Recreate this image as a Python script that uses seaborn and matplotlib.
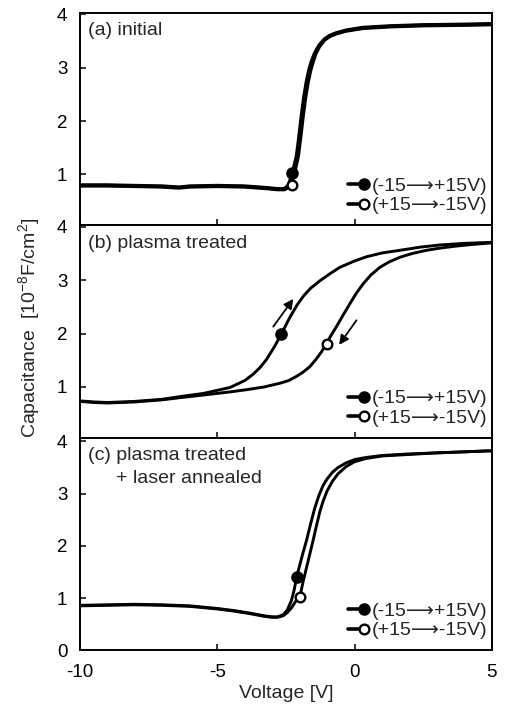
import numpy as np
import pandas as pd
import matplotlib
matplotlib.use("Agg")
import matplotlib.pyplot as plt
import seaborn as sns
from matplotlib.lines import Line2D
from matplotlib.legend_handler import HandlerLine2D

# ---------------- data ----------------
# (a) initial
a_fwd_v = [-10, -9, -8, -7, -6.4, -6, -5, -4, -3.2, -2.8, -2.55, -2.4, -2.3, -2.2, -2.11, -2.02,
           -1.93, -1.84, -1.75, -1.66, -1.57, -1.45, -1.3, -1.1, -0.9, -0.66, -0.3, 0.3, 1.3, 2.5, 4, 5]
a_fwd_c = [0.80, 0.80, 0.79, 0.78, 0.76, 0.78, 0.79, 0.78, 0.75, 0.73, 0.73, 0.80, 0.96, 1.15, 1.34, 1.70,
           2.10, 2.45, 2.73, 2.95, 3.11, 3.27, 3.41, 3.53, 3.60, 3.65, 3.70, 3.75, 3.78, 3.80, 3.81, 3.82]
a_rev_v = [-10, -9, -8, -7, -6.4, -6, -5, -4, -3.2, -2.8, -2.55, -2.35, -2.25, -2.15, -2.06, -1.97,
           -1.88, -1.79, -1.7, -1.61, -1.52, -1.42, -1.28, -1.1, -0.9, -0.66, -0.3, 0.3, 1.3, 2.5, 4, 5]
a_rev_c = [0.79, 0.79, 0.78, 0.77, 0.75, 0.77, 0.78, 0.77, 0.74, 0.72, 0.72, 0.78, 0.93, 1.13, 1.33, 1.69,
           2.09, 2.44, 2.72, 2.94, 3.10, 3.26, 3.40, 3.52, 3.59, 3.64, 3.69, 3.74, 3.77, 3.79, 3.80, 3.81]
a_mark_v = [-2.29, -2.28]
a_mark_c = [1.03, 0.80]

# (b) plasma treated
b_fwd_v = [-10, -9.5, -9, -8, -7, -6.36, -5.5, -4.54, -4.0, -3.69, -3.45, -3.2, -2.9, -2.66, -2.36,
           -2.1, -1.85, -1.6, -1.26, -0.9, -0.54, 0, 0.44, 1.0, 1.65, 2.4, 3.11, 4.0, 5]
b_fwd_c = [0.74, 0.72, 0.71, 0.73, 0.77, 0.82, 0.88, 0.99, 1.12, 1.24, 1.36, 1.52, 1.77, 2.0, 2.30,
           2.53, 2.71, 2.85, 2.99, 3.12, 3.24, 3.36, 3.44, 3.51, 3.56, 3.62, 3.66, 3.69, 3.71]
b_rev_v = [-10, -9.5, -9, -8, -7, -6.36, -5.5, -4.5, -3.93, -3.3, -2.72, -2.4, -2.11, -1.87, -1.63,
           -1.4, -1.2, -1.02, -0.85, -0.66, -0.4, -0.17, 0.07, 0.31, 0.6, 0.92, 1.25, 1.65, 2.1,
           2.62, 3.1, 3.71, 4.3, 5]
b_rev_c = [0.73, 0.71, 0.70, 0.72, 0.76, 0.80, 0.85, 0.91, 0.95, 1.0, 1.07, 1.12, 1.20, 1.28, 1.38,
           1.52, 1.66, 1.82, 1.97, 2.13, 2.36, 2.56, 2.76, 2.93, 3.10, 3.24, 3.34, 3.43, 3.50,
           3.56, 3.60, 3.64, 3.67, 3.70]
b_mark_v = [-2.66, -1.0]
b_mark_c = [2.0, 1.8]
b_arrow_up = [(-2.96, 2.13), (-2.23, 2.65)]
b_arrow_down = [(0.07, 2.25), (-0.56, 1.79)]

# (c) plasma treated + laser annealed
c_fwd_v = [-10, -9, -8, -7, -6, -5, -4.4, -3.8, -3.3, -3.0, -2.8, -2.6, -2.45, -2.3, -2.2, -2.11,
           -2.0, -1.88, -1.75, -1.6, -1.45, -1.3, -1.15, -1.0, -0.8, -0.6, -0.3, 0, 0.4, 1, 2, 3, 4, 5]
c_fwd_c = [0.86, 0.87, 0.88, 0.87, 0.85, 0.80, 0.76, 0.71, 0.66, 0.64, 0.64, 0.68, 0.77, 0.95, 1.15, 1.40,
           1.62, 1.86, 2.10, 2.42, 2.72, 2.96, 3.15, 3.28, 3.41, 3.50, 3.59, 3.65, 3.69, 3.73, 3.76, 3.78,
           3.80, 3.82]
c_rev_v = [-10, -9, -8, -7, -6, -5, -4.4, -3.8, -3.3, -3.0, -2.8, -2.6, -2.45, -2.3, -2.15, -1.99,
           -1.88, -1.75, -1.63, -1.51, -1.38, -1.26, -1.14, -1.0, -0.8, -0.6, -0.3, 0, 0.4, 1, 2, 3, 4, 5]
c_rev_c = [0.85, 0.86, 0.87, 0.86, 0.84, 0.79, 0.75, 0.70, 0.65, 0.63, 0.63, 0.66, 0.72, 0.81, 0.93, 1.02,
           1.3, 1.58, 1.84, 2.10, 2.40, 2.66, 2.86, 3.05, 3.24, 3.38, 3.52, 3.61, 3.67, 3.72, 3.75, 3.78,
           3.80, 3.82]
c_mark_v = [-2.11, -1.99]
c_mark_c = [1.40, 1.02]

panel_labels = ["(a) initial", "(b) plasma treated", "(c) plasma treated"]
panel_label2 = "+ laser annealed"
legend_labels = ["(-15\u27f6+15V)", "(+15\u27f6-15V)"]
x_ticks = [-10, -5, 0, 5]
y_ticks_top = [1, 2, 3, 4]
y_ticks_bottom = [0, 1, 2, 3, 4]

# ---------------- style ----------------
sns.set_style("ticks")
plt.rcParams["font.family"] = ["Liberation Sans", "DejaVu Sans"]
plt.rcParams["mathtext.fontset"] = "custom"
plt.rcParams["mathtext.rm"] = "Liberation Sans"
plt.rcParams["mathtext.default"] = "regular"
FS = 14
TFS = 13.5


class RightMarkerHandler(HandlerLine2D):
    def create_artists(self, legend, orig_handle, xdescent, ydescent, width, height, fontsize, trans):
        arts = super().create_artists(legend, orig_handle, xdescent, ydescent, width, height, fontsize, trans)
        for a in arts:
            if isinstance(a, Line2D) and a.get_markevery() is not None:
                a.set_markevery([2])
        return arts


fig = plt.figure(figsize=(5.06, 7.06), dpi=100)
gs = fig.add_gridspec(3, 1, left=0.158, right=0.972, top=0.982, bottom=0.079, hspace=0)
axes = [fig.add_subplot(gs[i, 0]) for i in range(3)]

panels = [
    (a_fwd_v, a_fwd_c, a_rev_v, a_rev_c, a_mark_v, a_mark_c, 2.7),
    (b_fwd_v, b_fwd_c, b_rev_v, b_rev_c, b_mark_v, b_mark_c, 2.1),
    (c_fwd_v, c_fwd_c, c_rev_v, c_rev_c, c_mark_v, c_mark_c, 2.1),
]

for i, (ax, (fv, fc, rv, rc, mv, mc, lw)) in enumerate(zip(axes, panels)):
    df = pd.concat([
        pd.DataFrame({"V": fv, "C": fc, "sweep": legend_labels[0]}),
        pd.DataFrame({"V": rv, "C": rc, "sweep": legend_labels[1]}),
    ])
    sns.lineplot(data=df, x="V", y="C", units="sweep", estimator=None, sort=False,
                 color="black", lw=lw, ax=ax, legend=False)
    sns.scatterplot(x=[mv[0]], y=[mc[0]], ax=ax, s=62, color="black", edgecolor="black",
                    linewidth=1.2, zorder=5, legend=False)
    sns.scatterplot(x=[mv[1]], y=[mc[1]], ax=ax, s=48, color="white", edgecolor="black",
                    linewidth=1.7, zorder=5, legend=False)

    ax.set_xlim(-10, 5)
    ax.set_xticks(x_ticks)
    if i < 2:
        ax.set_ylim(0.05, 4.03)
        ax.set_yticks(y_ticks_top)
        ax.tick_params(axis="x", labelbottom=False)
    else:
        ax.set_ylim(0, 4.07)
        ax.set_yticks(y_ticks_bottom)
        ax.set_xticklabels([str(t) for t in x_ticks])
    ax.tick_params(direction="in", length=4, width=1.1, labelsize=TFS, colors="black")
    ax.tick_params(axis="y", pad=9)
    ax.tick_params(axis="x", pad=10)
    ax.set_xlabel("")
    ax.set_ylabel("")
    for sp in ax.spines.values():
        sp.set_visible(True)
        sp.set_linewidth(1.4)
        sp.set_color("black")

    ax.text(0.02, 0.955, panel_labels[i], transform=ax.transAxes, ha="left", va="top",
            fontsize=FS)
    if i == 2:
        ax.text(0.088, 0.85, panel_label2, transform=ax.transAxes, ha="left", va="top",
                fontsize=FS)

    handles = [
        Line2D([], [], color="black", lw=2.6, marker="o", ms=8, mfc="black", mec="black"),
        Line2D([], [], color="black", lw=2.6, marker="o", ms=7, mfc="white", mec="black", mew=1.7),
    ]
    ax.legend(handles, legend_labels, loc="lower right", bbox_to_anchor=(1.0, 0.028),
              frameon=False, fontsize=FS,
              handlelength=0.8, handletextpad=0.4, labelspacing=0.1, borderaxespad=0.1,
              borderpad=0.15, numpoints=1,
              handler_map={Line2D: RightMarkerHandler()})

# arrows in panel (b)
for (x0, y0), (x1, y1) in [b_arrow_up, b_arrow_down]:
    axes[1].annotate("", xy=(x1, y1), xytext=(x0, y0),
                     arrowprops=dict(arrowstyle="-|>", color="black", lw=1.3, mutation_scale=14,
                                     shrinkA=0, shrinkB=0))

axes[2].set_xlabel("Voltage [V]", fontsize=FS, labelpad=3)
fig.text(0.057, 0.535, "Capacitance  [10$^{-8}$F/cm$^{2}$]", rotation=90, ha="center",
         va="center", fontsize=FS)

fig.savefig("out.png", dpi=100)
